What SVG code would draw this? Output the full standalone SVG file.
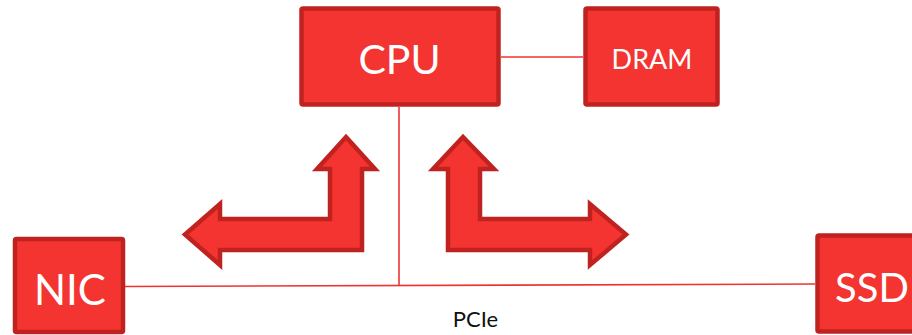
<svg xmlns="http://www.w3.org/2000/svg" width="912" height="335" viewBox="0 0 912 335">
  <style>
    .box { fill: #f43430; stroke: #c0231f; stroke-width: 4.5; }
    .arrow { fill: #f43430; stroke: #c0231f; stroke-width: 4.5; stroke-linejoin: miter; }
    .wire { fill: none; stroke: #ee3430; stroke-width: 1.6; }
    .label { font-family: Lato, "Open Sans", "Liberation Sans", sans-serif; fill: #ffffff; text-anchor: middle; }
    .caption { font-family: Lato, "Open Sans", "Liberation Sans", sans-serif; fill: #111111; text-anchor: middle; }
  </style>
  <rect width="912" height="335" fill="#ffffff"/>

  <!-- connectors -->
  <g id="connectors">
    <line class="wire" x1="501" y1="57" x2="583" y2="57"/>
    <line class="wire" x1="399" y1="107" x2="399" y2="285"/>
    <line class="wire" x1="125" y1="286.5" x2="815" y2="284"/>
    <polygon class="arrow" points="346,137 375,169 362,169 362,250 220,250 220,265 185,234.5 220,204 220,219 330,219 330,169 317,169"/>
    <polygon class="arrow" points="463,137 494,169 480,169 480,219 590,219 590,204 626,234.5 590,265 590,250 448,250 448,169 433,169"/>
  </g>

  <g id="cpu">
    <rect class="box" x="301.5" y="8.5" width="197" height="96" rx="1.5"/>
    <text class="label" x="399.5" y="74" font-size="41">CPU</text>
  </g>

  <g id="dram">
    <rect class="box" x="585.5" y="8.5" width="132" height="96" rx="1.5"/>
    <text class="label" x="652" y="69" font-size="27">DRAM</text>
  </g>

  <g id="nic">
    <rect class="box" x="15" y="239" width="108" height="93" rx="1.5"/>
    <text class="label" x="70" y="305" font-size="42">NIC</text>
  </g>

  <g id="ssd">
    <rect class="box" x="817.5" y="235.5" width="120" height="96" rx="1.5"/>
    <text class="label" x="872" y="301.5" font-size="40">SSD</text>
  </g>

  <g id="pcie">
    <text class="caption" x="475.5" y="326.5" font-size="22">PCIe</text>
  </g>
</svg>
